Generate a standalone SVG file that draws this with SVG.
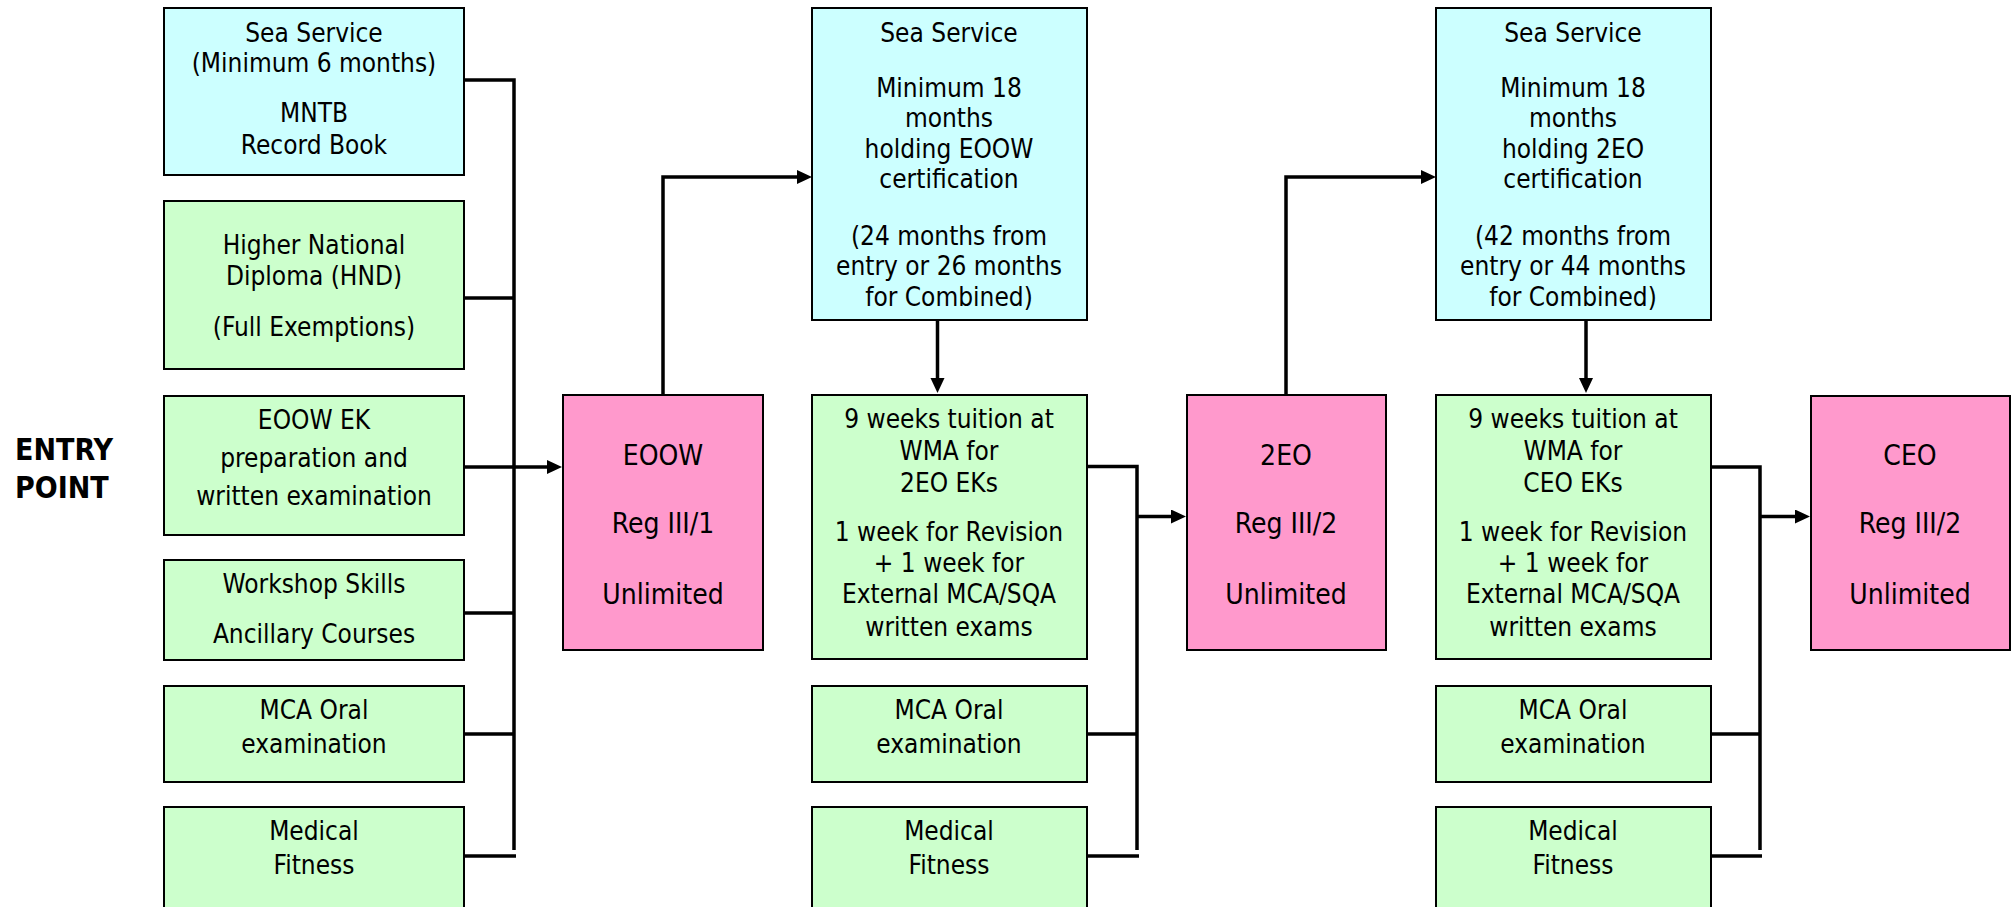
<svg xmlns="http://www.w3.org/2000/svg" width="2014" height="907" viewBox="0 0 2014 907">
<style>
.box{stroke:#000;stroke-width:2}
.sea{fill:#CCFFFF}
.grn{fill:#CCFFCC}
.pnk{fill:#FF99CC}
text{font-family:"DejaVu Sans Condensed","DejaVu Sans",sans-serif;font-size:26px;fill:#000;text-anchor:middle}
.ttl{font-weight:bold;font-size:30px;text-anchor:start}
.big{font-size:28px}
.con{fill:none;stroke:#000;stroke-width:3.5;stroke-linejoin:miter}
</style>
<defs>
<marker id="ah" markerUnits="userSpaceOnUse" markerWidth="16" markerHeight="15" refX="3" refY="7" orient="auto" viewBox="0 0 16 15">
<path d="M0,0 L15,7 L0,14 z" fill="#000"/>
</marker>
</defs>
<rect width="2014" height="907" fill="#fff"/>

<g id="entry-point">
<text class="ttl" x="15" y="460">ENTRY</text>
<text class="ttl" x="15" y="498">POINT</text>
</g>

<g id="sea-service-1">
<rect class="box sea" x="164" y="8" width="300" height="167"/>
<text x="314" y="42">Sea Service</text>
<text x="314" y="72">(Minimum 6 months)</text>
<text x="314" y="122">MNTB</text>
<text x="314" y="154">Record Book</text>
</g>
<g id="hnd">
<rect class="box grn" x="164" y="201" width="300" height="168"/>
<text x="314" y="254">Higher National</text>
<text x="314" y="285">Diploma (HND)</text>
<text x="314" y="336">(Full Exemptions)</text>
</g>
<g id="eoow-ek">
<rect class="box grn" x="164" y="396" width="300" height="139"/>
<text x="314" y="429">EOOW EK</text>
<text x="314" y="467">preparation and</text>
<text x="314" y="505">written examination</text>
</g>
<g id="workshop">
<rect class="box grn" x="164" y="560" width="300" height="100"/>
<text x="314" y="593">Workshop Skills</text>
<text x="314" y="643">Ancillary Courses</text>
</g>
<g id="mca-oral-1">
<rect class="box grn" x="164" y="686" width="300" height="96"/>
<text x="314" y="719">MCA Oral</text>
<text x="314" y="753">examination</text>
</g>
<g id="medical-1">
<rect class="box grn" x="164" y="807" width="300" height="120"/>
<text x="314" y="840">Medical</text>
<text x="314" y="874">Fitness</text>
</g>

<g id="eoow">
<rect class="box pnk" x="563" y="395" width="200" height="255"/>
<text class="big" x="663" y="465">EOOW</text>
<text class="big" x="663" y="533">Reg III/1</text>
<text class="big" x="663" y="604">Unlimited</text>
</g>

<g id="sea-service-2">
<rect class="box sea" x="812" y="8" width="275" height="312"/>
<text x="949" y="42">Sea Service</text>
<text x="949" y="97">Minimum 18</text>
<text x="949" y="127">months</text>
<text x="949" y="158">holding EOOW</text>
<text x="949" y="188">certification</text>
<text x="949" y="245">(24 months from</text>
<text x="949" y="275">entry or 26 months</text>
<text x="949" y="306">for Combined)</text>
</g>
<g id="tuition-2eo">
<rect class="box grn" x="812" y="395" width="275" height="264"/>
<text x="949" y="428">9 weeks tuition at</text>
<text x="949" y="460">WMA for</text>
<text x="949" y="492">2EO EKs</text>
<text x="949" y="541">1 week for Revision</text>
<text x="949" y="572">+ 1 week for</text>
<text x="949" y="603">External MCA/SQA</text>
<text x="949" y="636">written exams</text>
</g>
<g id="mca-oral-2">
<rect class="box grn" x="812" y="686" width="275" height="96"/>
<text x="949" y="719">MCA Oral</text>
<text x="949" y="753">examination</text>
</g>
<g id="medical-2">
<rect class="box grn" x="812" y="807" width="275" height="120"/>
<text x="949" y="840">Medical</text>
<text x="949" y="874">Fitness</text>
</g>

<g id="2eo">
<rect class="box pnk" x="1187" y="395" width="199" height="255"/>
<text class="big" x="1286" y="465">2EO</text>
<text class="big" x="1286" y="533">Reg III/2</text>
<text class="big" x="1286" y="604">Unlimited</text>
</g>

<g id="sea-service-3">
<rect class="box sea" x="1436" y="8" width="275" height="312"/>
<text x="1573" y="42">Sea Service</text>
<text x="1573" y="97">Minimum 18</text>
<text x="1573" y="127">months</text>
<text x="1573" y="158">holding 2EO</text>
<text x="1573" y="188">certification</text>
<text x="1573" y="245">(42 months from</text>
<text x="1573" y="275">entry or 44 months</text>
<text x="1573" y="306">for Combined)</text>
</g>
<g id="tuition-ceo">
<rect class="box grn" x="1436" y="395" width="275" height="264"/>
<text x="1573" y="428">9 weeks tuition at</text>
<text x="1573" y="460">WMA for</text>
<text x="1573" y="492">CEO EKs</text>
<text x="1573" y="541">1 week for Revision</text>
<text x="1573" y="572">+ 1 week for</text>
<text x="1573" y="603">External MCA/SQA</text>
<text x="1573" y="636">written exams</text>
</g>
<g id="mca-oral-3">
<rect class="box grn" x="1436" y="686" width="275" height="96"/>
<text x="1573" y="719">MCA Oral</text>
<text x="1573" y="753">examination</text>
</g>
<g id="medical-3">
<rect class="box grn" x="1436" y="807" width="275" height="120"/>
<text x="1573" y="840">Medical</text>
<text x="1573" y="874">Fitness</text>
</g>

<g id="ceo">
<rect class="box pnk" x="1811" y="396" width="199" height="254"/>
<text class="big" x="1910" y="465">CEO</text>
<text class="big" x="1910" y="533">Reg III/2</text>
<text class="big" x="1910" y="604">Unlimited</text>
</g>

<g id="connectors">
<path class="con" d="M465,80 H514 V850"/>
<path class="con" d="M465,298 H514"/>
<path class="con" d="M465,467 H550" marker-end="url(#ah)"/>
<path class="con" d="M465,613 H514"/>
<path class="con" d="M465,734 H514"/>
<path class="con" d="M465,856 H516"/>
<path class="con" d="M663,394 V177 H800" marker-end="url(#ah)"/>
<path class="con" d="M937.5,321 V381" marker-end="url(#ah)"/>
<path class="con" d="M1088,466.5 H1137 V850"/>
<path class="con" d="M1137,516.5 H1174" marker-end="url(#ah)"/>
<path class="con" d="M1088,734 H1137"/>
<path class="con" d="M1088,856 H1139"/>
<path class="con" d="M1286,394 V177 H1424" marker-end="url(#ah)"/>
<path class="con" d="M1586,321 V381" marker-end="url(#ah)"/>
<path class="con" d="M1712,467 H1760 V850"/>
<path class="con" d="M1760,516.5 H1798" marker-end="url(#ah)"/>
<path class="con" d="M1712,734 H1760"/>
<path class="con" d="M1712,856 H1762"/>
</g>
</svg>
